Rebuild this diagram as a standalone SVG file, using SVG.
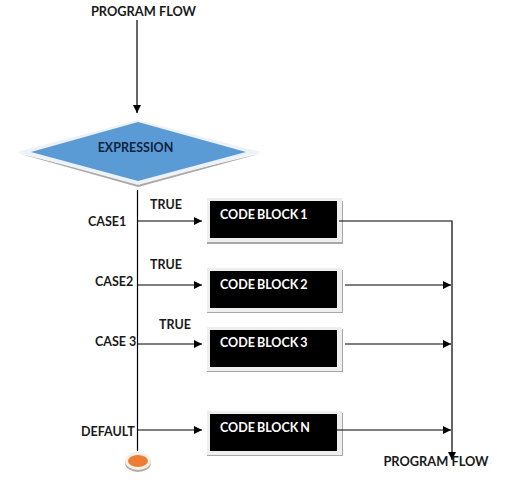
<svg xmlns="http://www.w3.org/2000/svg" width="513" height="483" viewBox="0 0 513 483">
<style>
text{font-family:Lato,"Liberation Sans",sans-serif;font-weight:700;font-size:12.500px;fill:#1a1a1a}
.w{fill:#fff;font-size:12.500px;word-spacing:-1px}
.p{font-size:12.800px}
.c{fill:none;stroke:#000;stroke-width:1.2}
.s{fill:#a8a8a8}
.f{fill:#eeeeee}
</style>
<defs>
<marker id="a" markerUnits="userSpaceOnUse" markerWidth="9" markerHeight="8" refX="8" refY="4" orient="auto"><path d="M0 0L8 4L0 8Z" fill="#000"/></marker>
</defs>
<rect width="513" height="483" fill="#fff"/>
<g id="decision">
<path class="s" d="M17 153L138 187L262 153L138 183Z"/>
<path fill="#eef1f6" d="M17 152L138 120L261 152L138 185Z"/>
<path fill="#5b9bd5" d="M31 152L138 122L246 152L138 181Z"/>
<text x="135.500" y="152" text-anchor="middle" style="fill:#10243e">EXPRESSION</text>
</g>
<g id="block1"><rect class="s" x="207" y="201" width="136" height="43"/><rect class="f" x="207" y="198" width="135" height="44"/><rect x="210" y="201" width="127" height="37" fill="#000"/><text class="w" x="220" y="219">CODE BLOCK 1</text></g>
<g id="block2"><rect class="s" x="207" y="270" width="136" height="43"/><rect class="f" x="207" y="268" width="135" height="44"/><rect x="210" y="271" width="127" height="37" fill="#000"/><text class="w" x="220" y="289">CODE BLOCK 2</text></g>
<g id="block3"><rect class="s" x="207" y="329" width="136" height="43"/><rect class="f" x="207" y="327" width="135" height="44"/><rect x="210" y="330" width="127" height="37" fill="#000"/><text class="w" x="220" y="347">CODE BLOCK 3</text></g>
<g id="blockN"><rect class="s" x="207" y="413" width="136" height="43"/><rect class="f" x="207" y="411" width="135" height="44"/><rect x="210" y="414" width="127" height="37" fill="#000"/><text class="w" x="220" y="432">CODE BLOCK N</text></g>
<g id="end">
<ellipse cx="138" cy="463" rx="13" ry="9" fill="#b5aca3"/>
<ellipse cx="138" cy="461" rx="13" ry="9" fill="#f3eee8"/>
<ellipse cx="138" cy="461" rx="10" ry="6" fill="#ed7d31"/>
</g>
<g id="connectors">
<path class="c" d="M137 20V113" marker-end="url(#a)"/>
<path class="c" d="M137.500 190V451"/>
<path class="c" d="M137 221H202" marker-end="url(#a)"/>
<path class="c" d="M137 285H202" marker-end="url(#a)"/>
<path class="c" d="M137 344H202" marker-end="url(#a)"/>
<path class="c" d="M137 430H202" marker-end="url(#a)"/>
<path class="c" d="M339 221H452V460" marker-end="url(#a)"/>
<path class="c" d="M345 285H451" marker-end="url(#a)"/>
<path class="c" d="M345 344H451" marker-end="url(#a)"/>
<path class="c" d="M337 430H451" marker-end="url(#a)"/>
</g>
<g id="labels">
<text class="p" x="143.500" y="16" text-anchor="middle">PROGRAM FLOW</text>
<text x="150" y="209">TRUE</text>
<text x="150" y="269">TRUE</text>
<text x="159" y="329">TRUE</text>
<text x="88" y="226">CASE1</text>
<text x="95" y="286">CASE2</text>
<text x="95" y="346">CASE 3</text>
<text x="81" y="436">DEFAULT</text>
<text class="p" x="436" y="466" text-anchor="middle">PROGRAM FLOW</text>
</g>
</svg>
